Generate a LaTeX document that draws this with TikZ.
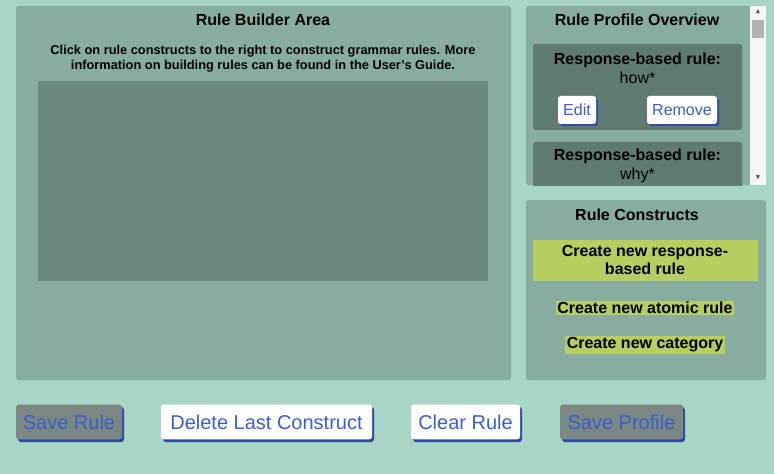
\documentclass[tikz,border=0pt]{standalone}
\usepackage{amssymb}
\usepackage{fontspec}
\setmainfont{Liberation Sans}
\usetikzlibrary{positioning}
\definecolor{pagebg}{HTML}{A8D5C6}
\definecolor{panelbg}{HTML}{86ADA0}
\definecolor{areabg}{HTML}{6B897F}
\definecolor{cardbg}{HTML}{5F7B72}
\definecolor{linkblue}{HTML}{3A5FCD}
\definecolor{greybtn}{HTML}{7A8782}
\definecolor{lime}{HTML}{B5CE5F}
\tikzset{
  panel/.style={fill=panelbg, rounded corners=2pt},
  title/.style={font=\fontsize{12}{14}\selectfont\bfseries},
  cardtext/.style={font=\fontsize{12}{14}\selectfont\bfseries, align=center},
  smallbtn/.style={fill=white, text=linkblue, rounded corners=2pt, font=\fontsize{12}{14}\selectfont,
    minimum height=21pt, inner xsep=3pt},
  bigbtn/.style={text=linkblue, rounded corners=2pt, font=\fontsize{15}{18}\selectfont,
    minimum height=26pt, inner xsep=4pt},
  shade/.style={fill=linkblue!80!black, rounded corners=2pt},
  hilite/.style={fill=lime, font=\fontsize{12}{14}\selectfont\bfseries, inner sep=1pt, align=center}
}
\begin{document}
\begin{tikzpicture}[x=0.75pt,y=-0.75pt]
  \fill[pagebg] (0,0) rectangle (774,474);
  \useasboundingbox (0,0) rectangle (774,474);
  % builder area
  \fill[panel] (16,6) rectangle (511,380);
  \node[title] (buildtitle) at (263,20) {Rule Builder Area};
  \node[font=\fontsize{9.6}{11.5}\selectfont\bfseries, align=center] (buildhelp) at (263,59)
    {Click on rule constructs to the right to construct grammar rules. More\\information on building rules can be found in the User's Guide.};
  \fill[areabg] (38,81) rectangle (488,281);
  % profile overview
  \fill[panel] (526,6) rectangle (766,185);
  \node[title] (proftitle) at (637,20) {Rule Profile Overview};
  \begin{scope}
    \clip (526,6) rectangle (750,185);
    \fill[cardbg, rounded corners=2pt] (533,44) rectangle (742,130);
    \node[cardtext] (card1) at (637.5,68) {Response-based rule:\\\mdseries how*};
    \fill[shade] (560,98) rectangle (598,126);
    \node[smallbtn, minimum width=38*0.75pt] (edit) at (577,110) {Edit};
    \fill[shade] (649,98) rectangle (719,126);
    \node[smallbtn, minimum width=70*0.75pt] (remove) at (682,110) {Remove};
    \fill[cardbg, rounded corners=2pt] (533,142) rectangle (742,200);
    \node[cardtext] (card2) at (637.5,166) {Response-based rule:\\\mdseries why*};
  \end{scope}
  \fill[white!92!gray] (750,6) rectangle (766,185);
  \fill[gray!60] (752,20) rectangle (764,38);
  \node[font=\fontsize{5}{6}\selectfont, text=black!70] (up) at (758,12) {$\blacktriangle$};
  \node[font=\fontsize{5}{6}\selectfont, text=black!70] (down) at (758,178) {$\blacktriangledown$};
  % constructs
  \fill[panel] (526,200) rectangle (766,380);
  \node[title] (constitle) at (637,215) {Rule Constructs};
  \fill[lime] (533,240) rectangle (758,281);
  \node[cardtext] (newresp) at (645,260) {Create new response-\\based rule};
  \node[hilite] (newatomic) at (645,308) {Create new atomic rule};
  \node[hilite] (newcat) at (645,345) {Create new category};
  % bottom buttons
  \fill[shade] (18,407) rectangle (124,442);
  \node[bigbtn, fill=greybtn, minimum width=106*0.75pt] (saverule) at (69,422) {Save Rule};
  \fill[shade] (163,407) rectangle (374,442);
  \node[bigbtn, fill=white, minimum width=211*0.75pt] (dellast) at (266.5,422) {Delete Last Construct};
  \fill[shade] (413,407) rectangle (522,442);
  \node[bigbtn, fill=white, minimum width=109*0.75pt] (clear) at (465.5,422) {Clear Rule};
  \fill[shade] (562,407) rectangle (685,442);
  \node[bigbtn, fill=greybtn, minimum width=123*0.75pt] (saveprof) at (621.5,422) {Save Profile};
\end{tikzpicture}
\end{document}
